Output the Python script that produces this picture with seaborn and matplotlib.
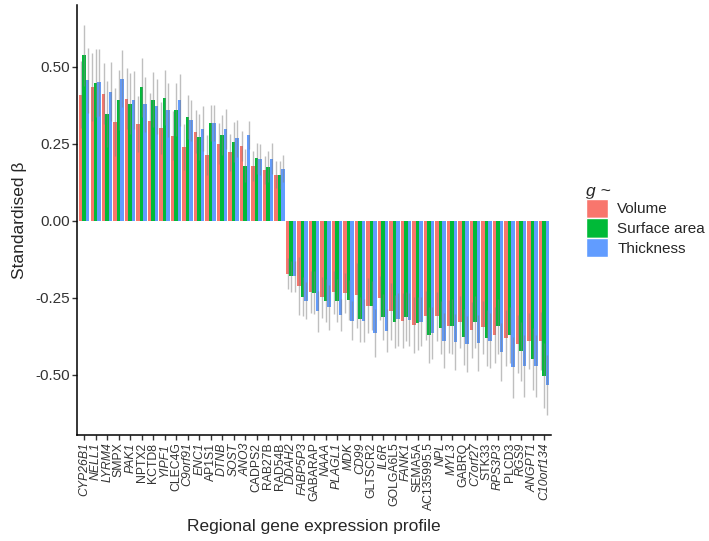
import numpy as np
import pandas as pd
import seaborn as sns
import matplotlib.pyplot as plt
from matplotlib.patches import Patch

genes = ["CYP26B1", "NELL1", "LYRM4", "SMPX", "PAK1", "NPTX2", "KCTD8", "YIPF1", "CLEC4G",
         "C9orf91", "ENC1", "AP1S1", "DTNB", "SOST", "ANO3", "CADPS2", "RAB27B", "RAD54B",
         "DDAH2", "FABP5P3", "GABARAP", "NAAA", "PLAGL1", "MDK", "CD99", "GLTSCR2", "IL6R",
         "GOLGA6L5", "FANK1", "SEMA5A", "AC135995.5", "NPL", "MYL3", "GABRQ", "C7orf27",
         "STK33", "RPS3P3", "PLCD3", "RGS9", "ANGPT1", "C10orf134"]
italic_genes = ["CYP26B1", "NELL1", "LYRM4", "PAK1", "YIPF1", "C9orf91", "ENC1", "DTNB", "SOST",
                "ANO3", "DDAH2", "FABP5P3", "NAAA", "PLAGL1", "MDK", "CD99", "IL6R", "FANK1",
                "NPL", "MYL3", "C7orf27", "RPS3P3", "RGS9", "ANGPT1", "C10orf134"]
measures = ["Volume", "Surface area", "Thickness"]

volume = [0.409, 0.434, 0.412, 0.321, 0.396, 0.314, 0.324, 0.301, 0.276, 0.238, 0.289, 0.213,
          0.250, 0.222, 0.241, 0.178, 0.165, 0.149,
          -0.172, -0.211, -0.232, -0.249, -0.232, -0.235, -0.242, -0.276, -0.251, -0.294, -0.324,
          -0.338, -0.308, -0.310, -0.343, -0.328, -0.354, -0.346, -0.370, -0.381, -0.400, -0.390, -0.390]
surface = [0.536, 0.447, 0.346, 0.392, 0.380, 0.432, 0.393, 0.399, 0.360, 0.337, 0.271, 0.317,
           0.278, 0.255, 0.178, 0.202, 0.175, 0.149,
           -0.181, -0.246, -0.233, -0.259, -0.259, -0.256, -0.319, -0.276, -0.312, -0.327, -0.311,
           -0.333, -0.370, -0.347, -0.343, -0.378, -0.329, -0.381, -0.343, -0.370, -0.424, -0.448, -0.503]
thickness = [0.455, 0.449, 0.418, 0.460, 0.391, 0.377, 0.371, 0.360, 0.392, 0.325, 0.299, 0.317,
             0.297, 0.268, 0.279, 0.199, 0.201, 0.169,
             -0.181, -0.259, -0.294, -0.281, -0.305, -0.324, -0.324, -0.363, -0.357, -0.320, -0.321,
             -0.327, -0.364, -0.389, -0.394, -0.400, -0.397, -0.389, -0.426, -0.476, -0.471, -0.471, -0.532]

# half-width of the CI drawn as grey lines
volume_err = [0.108, 0.110, 0.098, 0.110, 0.100, 0.090, 0.090, 0.085, 0.080, 0.075, 0.071, 0.066,
              0.067, 0.060, 0.049, 0.048, 0.045, 0.043,
              0.050, 0.094, 0.068, 0.067, 0.070, 0.065, 0.106, 0.089, 0.070, 0.092, 0.090,
              0.090, 0.080, 0.080, 0.085, 0.085, 0.090, 0.085, 0.090, 0.090, 0.095, 0.090, 0.095]
surface_err = [0.100, 0.110, 0.106, 0.098, 0.100, 0.095, 0.090, 0.090, 0.085, 0.071, 0.074, 0.057,
               0.066, 0.065, 0.053, 0.050, 0.050, 0.045,
               0.050, 0.063, 0.070, 0.070, 0.070, 0.065, 0.073, 0.080, 0.075, 0.087, 0.080,
               0.085, 0.090, 0.085, 0.090, 0.090, 0.085, 0.090, 0.090, 0.090, 0.095, 0.100, 0.105]
thickness_err = [0.105, 0.108, 0.096, 0.092, 0.095, 0.090, 0.090, 0.088, 0.085, 0.068, 0.073, 0.057,
                 0.064, 0.060, 0.045, 0.050, 0.050, 0.045,
                 0.050, 0.060, 0.067, 0.073, 0.052, 0.063, 0.070, 0.078, 0.070, 0.085, 0.085,
                 0.080, 0.085, 0.090, 0.090, 0.090, 0.090, 0.090, 0.095, 0.100, 0.100, 0.100, 0.097]

colors = ["#F8766D", "#00BA38", "#619CFF"]

df = pd.concat([
    pd.DataFrame({"gene": genes, "beta": volume, "measure": "Volume"}),
    pd.DataFrame({"gene": genes, "beta": surface, "measure": "Surface area"}),
    pd.DataFrame({"gene": genes, "beta": thickness, "measure": "Thickness"}),
])

sns.set_style("white")
plt.rcParams["font.family"] = ["Liberation Sans", "DejaVu Sans"]

fig = plt.figure(figsize=(7.09, 5.41), dpi=100)
ax = fig.add_axes([0.109, 0.196, 0.668, 0.795])
sns.barplot(data=df, x="gene", y="beta", hue="measure", hue_order=measures, palette=colors,
            width=0.9, saturation=1, errorbar=None, ax=ax, legend=False, linewidth=0)

# grey CI lines over each bar
for cont, errs in zip(ax.containers, [volume_err, surface_err, thickness_err]):
    xs = [b.get_x() + b.get_width() / 2 for b in cont]
    ys = [b.get_y() + b.get_height() for b in cont]
    ax.errorbar(xs, ys, yerr=errs, fmt="none", ecolor="grey", alpha=0.5, elinewidth=1.0, capsize=0)

ax.set_xlim(-0.6, len(genes) - 0.4)
ax.set_ylim(-0.695, 0.70)
ax.set_yticks([-0.5, -0.25, 0, 0.25, 0.5])
ax.set_yticklabels(["-0.50", "-0.25", "0.00", "0.25", "0.50"], fontsize=11, color="#333333")
ax.set_xticks(range(len(genes)))
ax.set_xticklabels(genes, rotation=90, fontsize=8.8, color="#333333")
for lab in ax.get_xticklabels():
    if lab.get_text() in italic_genes:
        lab.set_fontstyle("italic")

sns.despine(ax=ax)
for s in ["left", "bottom"]:
    ax.spines[s].set_color("black")
    ax.spines[s].set_linewidth(1.1)
ax.tick_params(axis="both", length=3.5, width=1, color="#333333", direction="out", pad=2,
               bottom=True, left=True)

ax.set_xlabel("Regional gene expression profile", fontsize=12.5, labelpad=6)
ax.set_ylabel("Standardised β", fontsize=12.5, labelpad=6)

handles = [Patch(facecolor=c, label=m) for c, m in zip(colors, measures)]
leg = fig.legend(handles=handles, title="g ~", loc="upper left",
                 bbox_to_anchor=(0.818, 0.672), frameon=False, fontsize=11,
                 title_fontsize=12.5, handlelength=1.45, handleheight=1.6,
                 labelspacing=0.0, handletextpad=0.6, borderaxespad=0)
leg.get_title().set_fontstyle("italic")
leg._legend_box.align = "left"

fig.savefig("out.png", dpi=100)
